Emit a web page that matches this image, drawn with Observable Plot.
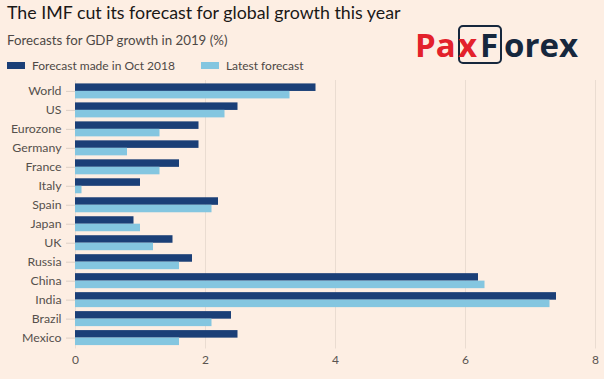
<!DOCTYPE html>
<html>
<head>
<meta charset="utf-8">
<script src="https://cdn.jsdelivr.net/npm/d3@7"></script>
<script src="https://cdn.jsdelivr.net/npm/@observablehq/plot@0.6"></script>
<style>
  html, body { margin: 0; padding: 0; }
  body { width: 604px; height: 379px; background: #fdeee3; position: relative; overflow: hidden; font-family: Lato, "Open Sans", sans-serif; }
  .title { position: absolute; left: 7px; top: 1px; font-size: 17.8px; color: #1a1817; white-space: nowrap; }
  .subtitle { position: absolute; left: 7px; top: 32px; font-size: 13.3px; color: #4d4845; white-space: nowrap; }
  .legend { position: absolute; left: 7px; top: 58px; font-size: 12px; color: #4d4845; white-space: nowrap; display: flex; align-items: center; }
  .legend .item { display: flex; align-items: center; }
  .legend .sw { width: 18px; height: 7px; margin-right: 7px; }
  .lg { position: absolute; top: 22px; font-size: 33px; line-height: 45px; font-weight: 700; white-space: nowrap; font-family: "Open Sans", sans-serif; }
  .red { color: #e3212b; }
  .dark { color: #16273d; }
  .logobox { position: absolute; left: 458px; top: 25px; width: 40px; height: 35px; border: 2px solid #16273d; border-radius: 5px; }
  #chart { position: absolute; left: 0; top: 76px; }
  #chart svg { display: block; }
</style>
</head>
<body>
<div class="title">The IMF cut its forecast for global growth this year</div>
<div class="subtitle">Forecasts for GDP growth in 2019 (%)</div>
<div class="legend" id="legend"></div>
<div class="logobox"></div>
<span class="lg red" style="left:415px">Pa</span>
<span class="lg red" style="left:458px">x</span>
<span class="lg dark" style="left:480px">F</span>
<span class="lg dark" style="left:504px">orex</span>
<div id="chart"></div>
<script>
const countries = ["World","US","Eurozone","Germany","France","Italy","Spain","Japan","UK","Russia","China","India","Brazil","Mexico"];
const oct2018 = [3.7,2.5,1.9,1.9,1.6,1.0,2.2,0.9,1.5,1.8,6.2,7.4,2.4,2.5];
const latest  = [3.3,2.3,1.3,0.8,1.3,0.1,2.1,1.0,1.2,1.6,6.3,7.3,2.1,1.6];
const seriesNames = ["Forecast made in Oct 2018","Latest forecast"];
const seriesColors = ["#1b3f77","#84c6e0"];
const xTicks = [0,2,4,6,8];

const rowsOct = countries.map((c,i)=>({country:c, value:oct2018[i], series:seriesNames[0]}));
const rowsLatest = countries.map((c,i)=>({country:c, value:latest[i], series:seriesNames[1]}));

// legend
const leg = document.getElementById("legend");
seriesNames.forEach((s,i)=>{
  const it = document.createElement("div");
  it.className = "item";
  it.style.marginRight = i === 0 ? "26px" : "0";
  it.innerHTML = `<span class="sw" style="background:${seriesColors[i]}"></span><span>${s}</span>`;
  leg.appendChild(it);
});

const half = 7.45;
const chart = Plot.plot({
  width: 604,
  height: 303,
  marginTop: 4,
  marginBottom: 30.5,
  marginLeft: 75,
  marginRight: 9,
  style: {background: "transparent", fontFamily: "Lato, 'Open Sans', sans-serif"},
  x: {domain: [0, 8]},
  y: {domain: countries, paddingInner: 0.21, paddingOuter: 0.18, round: false},
  color: {domain: seriesNames, range: seriesColors},
  marks: [
    Plot.ruleX(xTicks, {stroke: "#eadcd1", strokeWidth: 1}),
    Plot.barX(rowsOct, {y: "country", x: "value", fill: "series", insetBottom: half}),
    Plot.barX(rowsLatest, {y: "country", x: "value", fill: "series", insetTop: half}),
    Plot.axisX({ticks: xTicks, tickSize: 0, tickPadding: 6, fontSize: 12, fill: "#5a5450", label: null}),
    Plot.axisY({tickSize: 9, tickPadding: 5, fontSize: 12.3, stroke: "#dccfc5", fill: "#55504c", label: null})
  ]
});
document.getElementById("chart").appendChild(chart);
</script>
</body>
</html>
